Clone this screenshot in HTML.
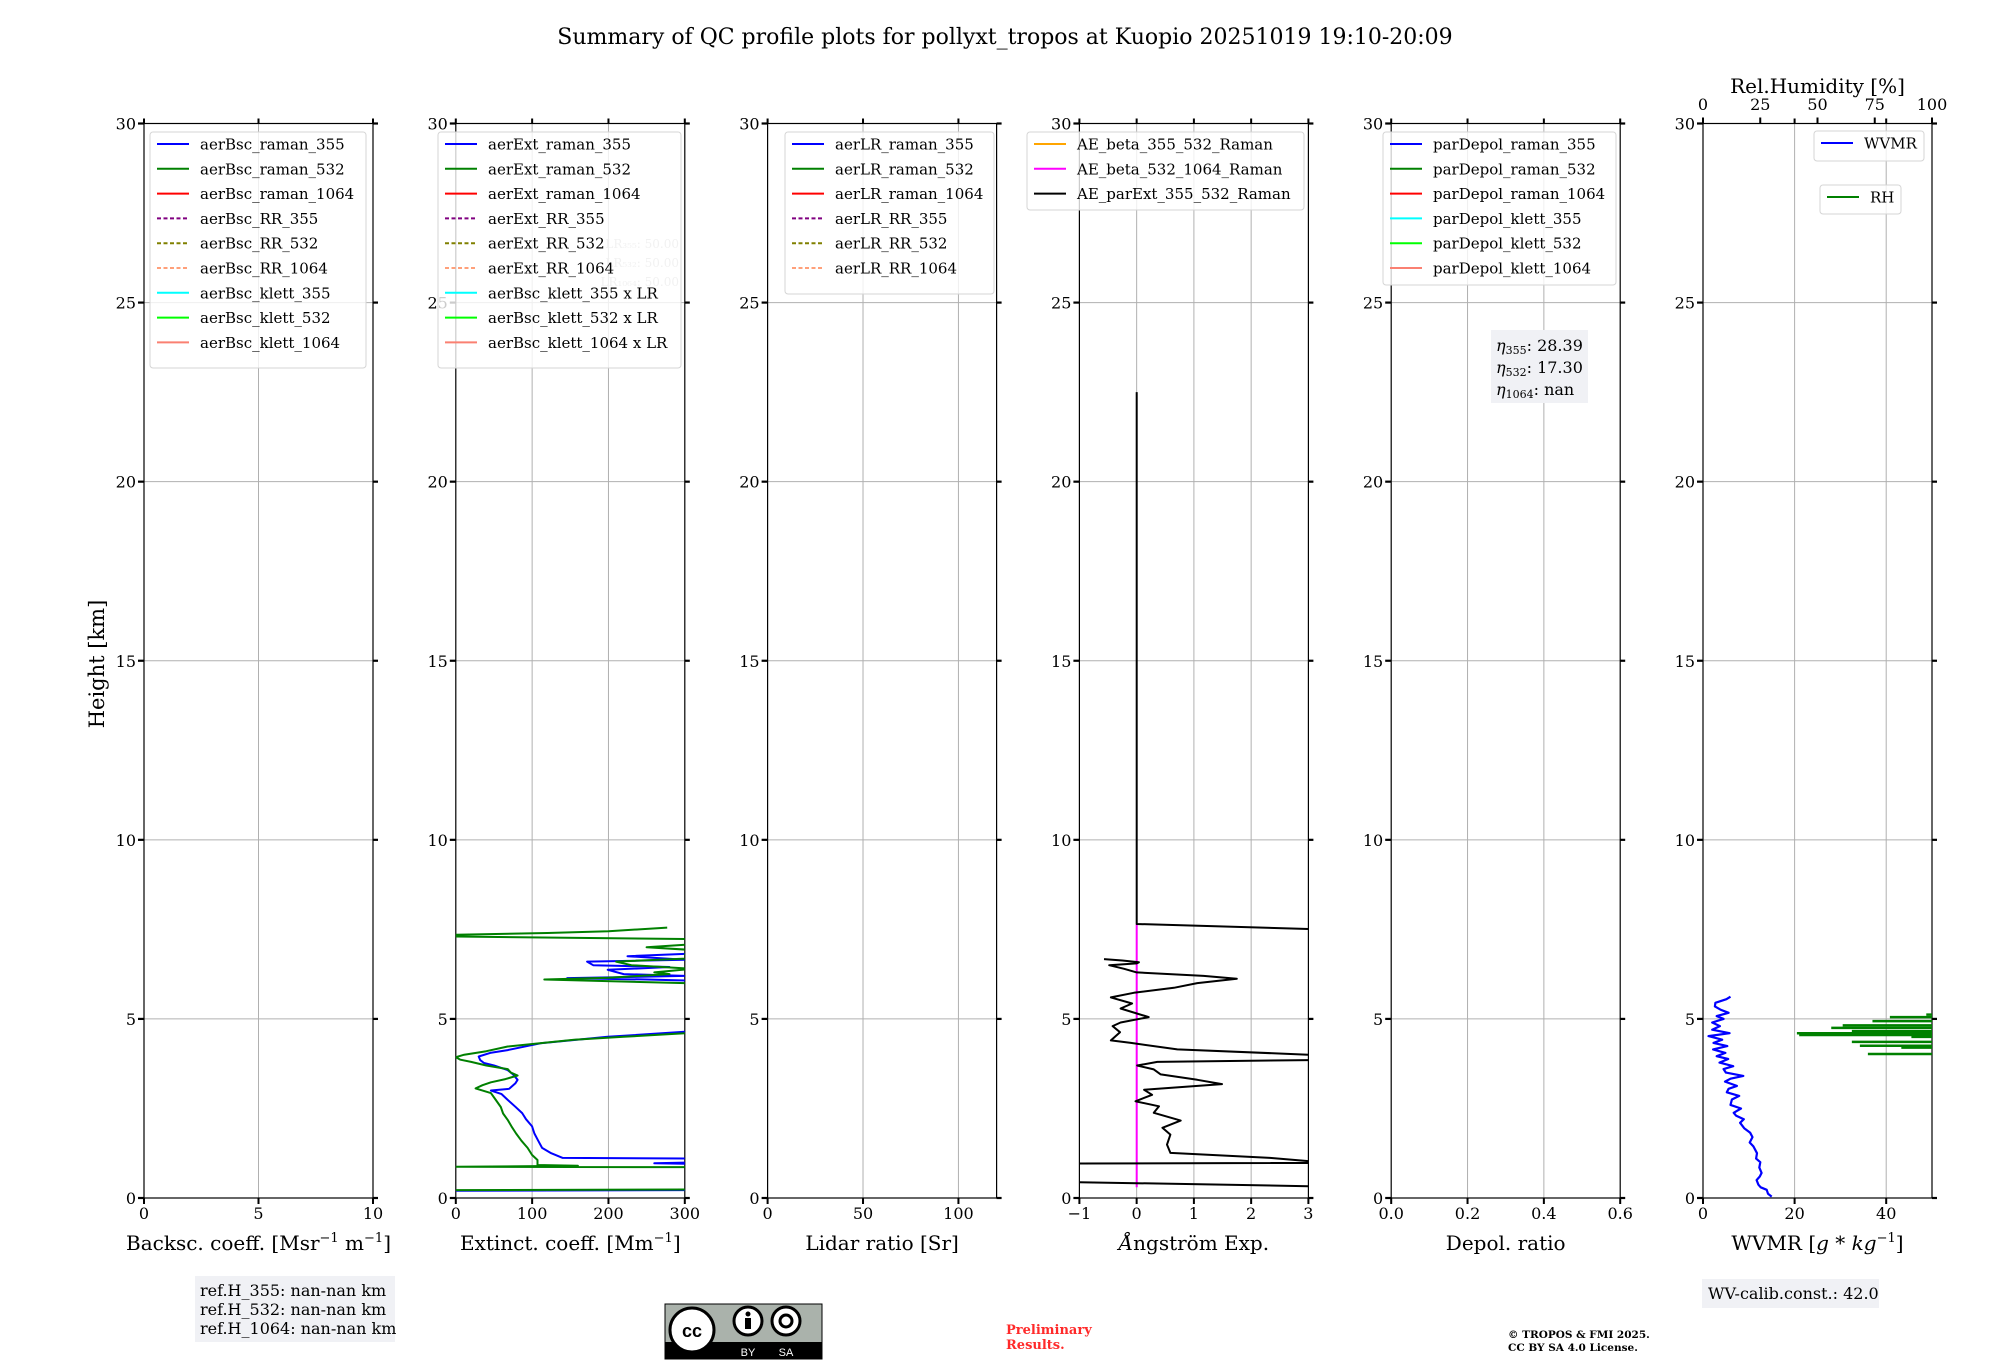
<!DOCTYPE html>
<html><head><meta charset="utf-8"><style>
html,body{margin:0;padding:0;background:#fff;}
svg{display:block;font-family:"DejaVu Serif","Liberation Serif",serif;}
</style></head><body>
<svg id="fig" xmlns="http://www.w3.org/2000/svg" width="2000" height="1360" viewBox="0 0 2000 1360">
<text x="1005" y="44" text-anchor="middle" font-size="22">Summary of QC profile plots for pollyxt_tropos at Kuopio 20251019 19:10-20:09</text>
<text transform="translate(104,664) rotate(-90)" text-anchor="middle" font-size="21">Height [km]</text>
<g id="panels"></g>
<g>
<rect x="195" y="1276" width="200" height="66" fill="#f0f1f5"/>
<text x="200" y="1296" font-size="16">ref.H_355: nan-nan km</text>
<text x="200" y="1315" font-size="16">ref.H_532: nan-nan km</text>
<text x="200" y="1334" font-size="16">ref.H_1064: nan-nan km</text>
</g>
<g>
<rect x="1702" y="1279" width="177" height="29" fill="#f0f1f5"/>
<text x="1708" y="1299" font-size="16">WV-calib.const.: 42.0</text>
</g>
<g>
<rect x="665" y="1304" width="157" height="55" fill="#aab2ab" stroke="#000" stroke-width="1"/>
<rect x="665" y="1342" width="157" height="17" fill="#000"/>
<circle cx="692" cy="1330" r="22" fill="#fff" stroke="#000" stroke-width="3"/>
<text x="692" y="1337" text-anchor="middle" font-size="18" font-weight="bold" font-family="Liberation Sans, sans-serif">cc</text>
<circle cx="748" cy="1321" r="14" fill="#fff" stroke="#000" stroke-width="3"/>
<circle cx="748" cy="1314" r="2.5" fill="#000"/>
<rect x="745" y="1318" width="6" height="11" fill="#000"/>
<circle cx="786" cy="1321" r="14" fill="#fff" stroke="#000" stroke-width="3"/>
<circle cx="786" cy="1321" r="6" fill="none" stroke="#000" stroke-width="3"/>
<text x="748" y="1356" text-anchor="middle" font-size="11" fill="#fff" font-family="Liberation Sans, sans-serif">BY</text>
<text x="786" y="1356" text-anchor="middle" font-size="11" fill="#fff" font-family="Liberation Sans, sans-serif">SA</text>
</g>
<text x="1006" y="1334" font-size="13" font-weight="bold" fill="#ff2a2a">Preliminary</text>
<text x="1006" y="1349" font-size="13" font-weight="bold" fill="#ff2a2a">Results.</text>
<text x="1508" y="1338" font-size="10.5" font-weight="bold">© TROPOS &amp; FMI 2025.</text>
<text x="1508" y="1351" font-size="10.5" font-weight="bold">CC BY SA 4.0 License.</text>
</svg>
<script>
// ---- data ----
const heightTicks = [0,5,10,15,20,25,30];
const extBlueH = [0.20,0.22,0.95,0.97,1.0,1.1,1.12,1.25,1.4,1.6,1.8,2.0,2.2,2.37,2.55,2.74,2.9,3.0,3.05,3.2,3.3,3.45,3.57,3.7,3.77,3.85,3.95,4.05,4.13,4.25,4.32,4.4,4.5,4.64,4.7,6.05,6.1,6.14,6.2,6.25,6.37,6.45,6.5,6.6,6.65,6.75,6.85,6.9];
const extBlueV = [0,320,320,260,330,330,140,125,113,108,103,100,92,87,78,68,60,46,70,78,81,75,68,50,37,32,30,45,68,95,111,150,199,300,340,340,250,146,300,220,199,280,180,172,300,225,340,340];
const extGreenH = [0.22,0.24,0.86,0.87,0.9,0.92,1.06,1.2,1.4,1.6,1.8,2.0,2.18,2.36,2.54,2.75,2.93,3.06,3.15,3.23,3.32,3.42,3.5,3.6,3.7,3.8,3.86,3.93,4.0,4.1,4.23,4.32,4.42,4.5,4.6,4.65,5.9,6.0,6.1,6.15,6.25,6.3,6.4,6.5,6.6,6.7,6.8,6.9,7.0,7.1,7.23,7.3,7.35,7.4,7.45,7.55];
const extGreenV = [0,320,320,0,160,107,107,100,94,86,79,73,68,62,59,52,46,26,35,46,65,81,72,68,40,20,6,0,11,40,68,110,155,220,300,340,340,300,116,200,280,260,310,230,210,320,300,330,250,320,300,0,0,120,200,277];
const aeH = [22.5,7.65,7.51,7.49,null,6.67,6.63,6.58,6.55,6.5,6.4,6.3,6.2,6.12,6.0,5.87,5.73,5.6,5.43,5.29,5.05,4.9,4.8,4.63,4.4,4.33,4.15,4.0,3.95,3.87,3.85,3.8,3.7,3.59,3.45,3.3,3.18,3.02,2.88,2.7,2.56,2.38,2.16,1.96,1.77,1.49,1.26,1.12,1.03,0.98,0.96,0.45,0.33,0.3];
const aeV = [0,0,3.0,3.5,null,-0.57,-0.25,0.04,0,-0.48,-0.22,0,1.17,1.75,1.06,0.65,-0.05,-0.45,-0.08,-0.28,0.21,-0.28,-0.42,-0.29,-0.45,-0.1,0.71,3.0,3.5,3.5,3.0,0.36,0.01,0.3,0.42,1.06,1.49,0.13,0.27,-0.02,0.39,0.3,0.77,0.45,0.59,0.53,0.59,2.33,3.0,3.3,-1.3,-1.3,3.0,3.3];
const aeMagH = [0.3,7.65];
const aeMagV = [0,0];
const wvH = [0.04,0.12,0.23,0.3,0.37,0.5,0.6,0.7,0.85,1.0,1.1,1.25,1.44,1.55,1.7,1.82,1.95,2.1,2.2,2.3,2.38,2.5,2.6,2.75,2.85,2.95,3.05,3.13,3.25,3.33,3.41,3.5,3.6,3.68,3.78,3.88,3.96,4.05,4.15,4.24,4.33,4.42,4.52,4.6,4.7,4.8,4.9,5.0,5.08,5.17,5.26,5.35,5.45,5.55,5.62];
const wvV = [15.0,14.2,13.9,12.6,12.1,11.7,12.4,12.8,12.3,12.5,11.6,11.8,11.0,10.2,10.8,10.3,9.0,8.1,8.9,7.2,6.7,8.3,6.0,6.3,7.9,5.2,5.6,7.4,4.8,6.0,8.8,5.0,4.5,6.6,3.6,5.5,3.0,4.9,2.2,5.3,2.3,4.2,1.2,5.8,2.0,3.7,2.0,4.5,3.0,5.6,3.8,2.6,2.7,5.1,6.0];
const rhH = [5.12,5.05,4.94,4.82,4.75,4.66,4.6,4.55,4.5,4.36,4.25,4.2,4.02];
const rhV = [97.5,81.6,74,61,56,65,41,42,91,65,68.5,86.6,72];

// ---- layout ----
const NS = "http://www.w3.org/2000/svg";
const Y0 = 1198, YTOP = 123.5, PW = 229;
const lefts = [144,455.8,767.6,1079.4,1391.2,1703];
const root = document.getElementById('panels');
function el(tag, attrs, parent){ const e=document.createElementNS(NS,tag); for(const k in attrs) e.setAttribute(k,attrs[k]); (parent||root).appendChild(e); return e; }
function ys(h){ return Y0 - (h/30)*(Y0-YTOP); }

function panel(i, xmin, xmax, ticks, tickLabels, gridTicks, xlabel){
  const L = lefts[i], R = L+PW;
  const g = el('g',{});
  
  
  const xs = v => L + (v-xmin)/(xmax-xmin)*PW;
  heightTicks.forEach(h=>{ if(h>0&&h<30){ const ln=el('line',{x1:L,x2:R,y1:ys(h),y2:ys(h),stroke:'#b0b0b0','stroke-width':1},g);   }});
  gridTicks.forEach(v=>{ const ln=el('line',{x1:xs(v),x2:xs(v),y1:YTOP,y2:Y0,stroke:'#b0b0b0','stroke-width':1},g);   });
  heightTicks.forEach(h=>{
    el('line',{x1:L-6,x2:L,y1:ys(h),y2:ys(h),stroke:'#000','stroke-width':2.2},g);
    el('line',{x1:R,x2:R+5,y1:ys(h),y2:ys(h),stroke:'#000','stroke-width':2.2},g);
    const t=el('text',{x:L-8,y:ys(h)+6,'text-anchor':'end','font-size':16},g);
    t.textContent=h;
    
    
  });
  ticks.forEach((v,k)=>{
    el('line',{x1:xs(v),x2:xs(v),y1:Y0,y2:Y0+6,stroke:'#000','stroke-width':2},g);
    el('line',{x1:xs(v),x2:xs(v),y1:YTOP-5,y2:YTOP,stroke:'#000','stroke-width':2},g);
    const t=el('text',{x:xs(v),y:1219,'text-anchor':'middle','font-size':16},g);
    t.textContent=tickLabels[k];
    
    
  });
  const frame=el('rect',{x:L,y:YTOP,width:PW,height:Y0-YTOP,fill:'none',stroke:'#000','stroke-width':1.2},g);
  
  
  const lab=el('text',{x:L+PW/2,y:1250,'text-anchor':'middle','font-size':20},g);
  lab.innerHTML = xlabel;
  
  
  const cp=el('clipPath',{id:'clip'+i},g);
  el('rect',{x:L,y:YTOP,width:PW,height:Y0-YTOP},cp);
  return {g,xs,L,R};
}
function series(p, H, V, color, w, name){
  let d='', pen=false;
  for(let k=0;k<H.length;k++){
    if(H[k]===null){ pen=false; continue; }
    d += (pen?'L':'M') + p.xs(V[k]).toFixed(1)+','+ys(H[k]).toFixed(1);
    pen=true;
  }
  const path=el('path',{d:d,fill:'none',stroke:color,'stroke-width':w,'clip-path':'url(#clip'+lefts.indexOf(p.L)+')','stroke-linejoin':'round'},p.g);
  
  
}
function legend(p, x, y, w, h, items){
  const lg=el('g',{},p.g);
  
  
  el('rect',{x:x,y:y,width:w,height:h,rx:3,fill:'rgba(255,255,255,0.8)',stroke:'#d5d5d5','stroke-width':1},lg);
  items.forEach((it,k)=>{
    const cy=y+12+k*24.8;
    const ln=el('line',{x1:x+7,x2:x+39,y1:cy,y2:cy,stroke:it[1],'stroke-width':2},lg);
    if(it[2]) ln.setAttribute('stroke-dasharray','4,2.5');
    const t=el('text',{x:x+50,y:cy+5.5,'font-size':15},lg);
    t.textContent=it[0];
    
    
  });
}

// Panel 1
const p1 = panel(0,0,10,[0,5,10],['0','5','10'],[5],'Backsc. coeff. [Msr<tspan dy="-8" font-size="13">−1</tspan><tspan dy="8"> m</tspan><tspan dy="-8" font-size="13">−1</tspan><tspan dy="8">]</tspan>');
legend(p1,150,132,216,236,[['aerBsc_raman_355','#0000ff'],['aerBsc_raman_532','#008000'],['aerBsc_raman_1064','#ff0000'],['aerBsc_RR_355','#800080',1],['aerBsc_RR_532','#808000',1],['aerBsc_RR_1064','#ffa07a',1],['aerBsc_klett_355','#00ffff'],['aerBsc_klett_532','#00ff00'],['aerBsc_klett_1064','#fa8072']]);

// Panel 2
const p2 = panel(1,0,300,[0,100,200,300],['0','100','200','300'],[100,200],'Extinct. coeff. [Mm<tspan dy="-8" font-size="13">−1</tspan><tspan dy="8">]</tspan>');
series(p2,extBlueH,extBlueV,'#0000ff',2,'ext-raman-355-line');
series(p2,extGreenH,extGreenV,'#008000',2,'ext-raman-532-line');
['LR\u2083\u2085\u2085: 50.00','LR\u2085\u2083\u2082: 50.00','LR\u2081\u2080\u2086\u2084: 50.00'].forEach((s,k)=>{
  const t=el('text',{x:679,y:248+k*19,'text-anchor':'end','font-size':12,fill:'#b8b8b8'},p2.g);
  t.textContent=s;
  
  
});
legend(p2,438,132,243,236,[['aerExt_raman_355','#0000ff'],['aerExt_raman_532','#008000'],['aerExt_raman_1064','#ff0000'],['aerExt_RR_355','#800080',1],['aerExt_RR_532','#808000',1],['aerExt_RR_1064','#ffa07a',1],['aerBsc_klett_355 x LR','#00ffff'],['aerBsc_klett_532 x LR','#00ff00'],['aerBsc_klett_1064 x LR','#fa8072']]);

// Panel 3
const p3 = panel(2,0,120,[0,50,100],['0','50','100'],[50,100],'Lidar ratio [Sr]');
legend(p3,785,132,209,162,[['aerLR_raman_355','#0000ff'],['aerLR_raman_532','#008000'],['aerLR_raman_1064','#ff0000'],['aerLR_RR_355','#800080',1],['aerLR_RR_532','#808000',1],['aerLR_RR_1064','#ffa07a',1]]);

// Panel 4
const p4 = panel(3,-1,3,[-1,0,1,2,3],['−1','0','1','2','3'],[0,1,2],'<tspan font-style="italic">Å</tspan>ngström Exp.');
series(p4,aeMagH,aeMagV,'#ff00ff',2,'ae-beta-532-1064-line');
series(p4,aeH,aeV,'#000000',2,'ae-parext-355-532-line');
legend(p4,1027,132,277,78,[['AE_beta_355_532_Raman','#ffa500'],['AE_beta_532_1064_Raman','#ff00ff'],['AE_parExt_355_532_Raman','#000000']]);

// Panel 5
const p5 = panel(4,0,0.6,[0,0.2,0.4,0.6],['0.0','0.2','0.4','0.6'],[0.2,0.4],'Depol. ratio');
legend(p5,1383,132,233,153,[['parDepol_raman_355','#0000ff'],['parDepol_raman_532','#008000'],['parDepol_raman_1064','#ff0000'],['parDepol_klett_355','#00ffff'],['parDepol_klett_532','#00ff00'],['parDepol_klett_1064','#fa8072']]);
(function(){
  const b=el('g',{},p5.g);
  
  
  el('rect',{x:1491,y:330,width:97,height:73,fill:'#f0f1f5'},b);
  [['355','28.39'],['532','17.30'],['1064','nan']].forEach((r,k)=>{
    const t=el('text',{x:1496,y:351+k*22,'font-size':16},b);
    t.innerHTML='<tspan font-style="italic">η</tspan><tspan font-size="11" dy="3">'+r[0]+'</tspan><tspan dy="-3">: '+r[1]+'</tspan>';
  });
})();

// Panel 6
const p6 = panel(5,0,50,[0,20,40],['0','20','40'],[20,40],'WVMR [<tspan font-style="italic">g</tspan> * <tspan font-style="italic">kg</tspan><tspan dy="-8" font-size="13">−1</tspan><tspan dy="8">]</tspan>');
series(p6,wvH,wvV,'#0000ff',2.2,'wvmr-line');
const rhX = v => p6.L + v/100*PW;
rhH.forEach((h,k)=>{
  const b=el('line',{x1:rhX(rhV[k]),x2:p6.R,y1:ys(h),y2:ys(h),stroke:'#008000','stroke-width':2.5},p6.g);
  
  
});
const rhTicks=[0,25,50,75,100];
rhTicks.forEach(v=>{
  el('line',{x1:rhX(v),x2:rhX(v),y1:YTOP-6,y2:YTOP,stroke:'#000','stroke-width':2},p6.g);
  const t=el('text',{x:rhX(v),y:110,'text-anchor':'middle','font-size':16},p6.g);
  t.textContent=v;
  
  
});
(function(){
  const t=el('text',{x:p6.L+PW/2,y:93,'text-anchor':'middle','font-size':20},p6.g);
  t.textContent='Rel.Humidity [%]';
  
  
})();
legend(p6,1814,131,110,30,[['WVMR','#0000ff']]);
legend(p6,1820,185,81,29,[['RH','#008000']]);
</script>
</body></html>
